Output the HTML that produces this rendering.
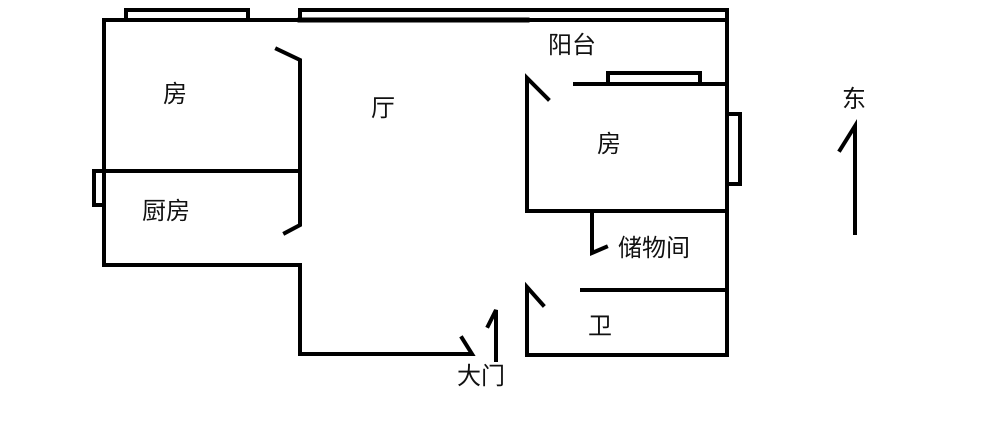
<!DOCTYPE html>
<html><head><meta charset="utf-8"><style>
html,body{margin:0;padding:0;background:#fff;}
svg{display:block;}
text{font-family:"Liberation Sans","Noto Sans CJK SC",sans-serif;font-size:24px;fill:#111;}
</style></head><body>
<svg width="1000" height="445" viewBox="0 0 1000 445" xmlns="http://www.w3.org/2000/svg">
<g stroke="#000" stroke-width="4" fill="none" stroke-linecap="square">
<polyline points="300,20 104,20 104,265 300,265"/>
<rect x="126" y="10" width="122" height="10"/>
<line x1="104" y1="171" x2="300" y2="171"/>
<rect x="94" y="171" width="10" height="34"/>
<polyline points="277,49 300,60 300,225 285,233"/>
<line x1="300" y1="20" x2="527" y2="20" stroke-width="5"/>
<line x1="527" y1="20" x2="727" y2="20"/>
<polyline points="300,20 300,10 727,10 727,355 527,355 527,287 543,305"/>
<polyline points="548,99 527,78 527,211 727,211"/>
<line x1="575" y1="84" x2="727" y2="84"/>
<rect x="608" y="73" width="92" height="11"/>
<rect x="727" y="114" width="13" height="70"/>
<polyline points="592,211 592,253 606,247"/>
<line x1="582" y1="290" x2="727" y2="290"/>
<polyline points="300,265 300,354 472,354 462,338"/>
<polyline points="488,326 496,310 496,360"/>
<polyline points="840,150 855,126 855,233"/>
</g>
<text x="163" y="102">房</text>
<text x="371" y="116">厅</text>
<text x="142" y="219">厨房</text>
<text x="548" y="53">阳台</text>
<text x="597" y="152">房</text>
<text x="618" y="256">储物间</text>
<text x="588" y="334">卫</text>
<text x="457" y="384">大门</text>
<text x="842" y="107">东</text>
</svg>
</body></html>
